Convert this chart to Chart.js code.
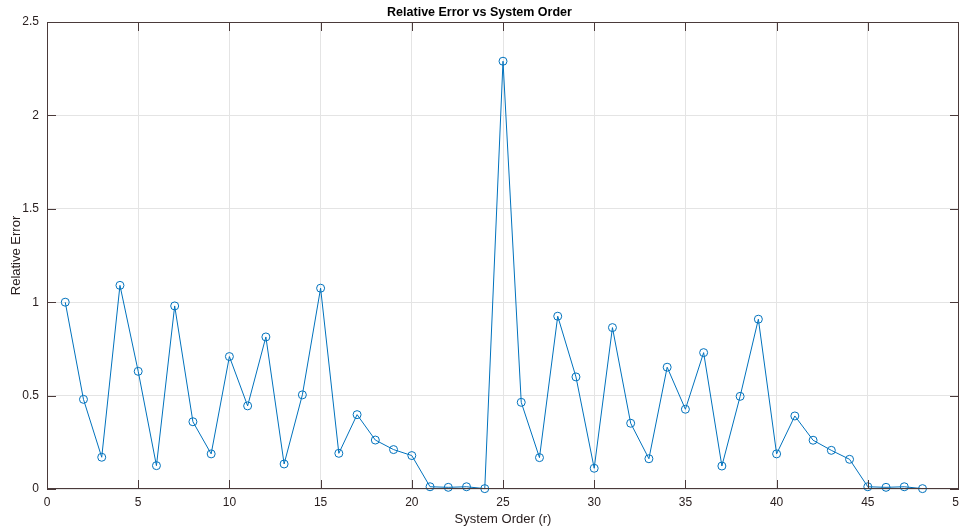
<!DOCTYPE html>
<html>
<head>
<meta charset="utf-8">
<script src="https://cdn.jsdelivr.net/npm/chart.js@4/dist/chart.umd.min.js"></script>
<style>
  html, body { margin: 0; padding: 0; background: #fff; }
  #wrap { width: 959px; height: 527px; }
</style>
</head>
<body>
<div id="wrap"><canvas id="err-chart"></canvas></div>
<script>
var orders = [1,2,3,4,5,6,7,8,9,10,11,12,13,14,15,16,17,18,19,20,21,22,23,24,
              25,26,27,28,29,30,31,32,33,34,35,36,37,38,39,40,41,42,43,44,45,46,47,48];
var relErr = [1.0,0.48,0.17,1.09,0.63,0.125,0.98,0.36,0.188,0.709,0.445,0.814,0.134,0.504,1.075,0.191,
              0.398,0.262,0.211,0.179,0.012,0.009,0.012,0.002,2.29,0.464,0.168,0.925,0.60,0.111,0.864,0.352,
              0.162,0.652,0.427,0.730,0.123,0.496,0.909,0.188,0.391,0.261,0.207,0.159,0.012,0.009,0.012,0.002];
var xTicks = [0,5,10,15,20,25,30,35,40,45,50];
var yTicks = [0,0.5,1,1.5,2,2.5];

var axisCol = '#4a3a3a';
var textCol = '#2a2020';

// MATLAB style box with inward ticks
var boxPlugin = {
  id: 'boxTicks',
  afterDraw: function(chart) {
    var c = chart.ctx, a = chart.chartArea;
    var xs = chart.scales.x, ys = chart.scales.y;
    c.save();
    c.strokeStyle = axisCol;
    c.lineWidth = 1;
    c.strokeRect(a.left + 0.5, a.top + 0.5, a.right - a.left - 1, a.bottom - a.top - 1);
    c.beginPath();
    xTicks.forEach(function(t) {
      var px = Math.round(xs.getPixelForValue(t)) + 0.5;
      c.moveTo(px, a.bottom); c.lineTo(px, a.bottom - 9);
      c.moveTo(px, a.top); c.lineTo(px, a.top + 9);
    });
    yTicks.forEach(function(t) {
      var py = Math.round(ys.getPixelForValue(t)) + 0.5;
      c.moveTo(a.left, py); c.lineTo(a.left + 9, py);
      c.moveTo(a.right, py); c.lineTo(a.right - 9, py);
    });
    c.stroke();
    c.restore();
  }
};

new Chart(document.getElementById('err-chart'), {
  type: 'line',
  data: {
    datasets: [{
      data: orders.map(function(o, i) { return { x: o, y: relErr[i] }; }),
      borderColor: '#0072BD',
      borderWidth: 1,
      pointStyle: 'circle',
      pointRadius: 4,
      pointBorderWidth: 1,
      pointBorderColor: '#0072BD',
      pointBackgroundColor: 'rgba(0,0,0,0)',
      fill: false,
      tension: 0,
      clip: 6
    }]
  },
  options: {
    responsive: true,
    maintainAspectRatio: false,
    animation: false,
    layout: { autoPadding: false, padding: { left: 0, right: 0, top: 0, bottom: 0 } },
    plugins: {
      legend: { display: false },
      tooltip: { enabled: false },
      title: {
        display: true,
        text: 'Relative Error vs System Order',
        color: '#000',
        font: { family: 'Liberation Sans, Arial', size: 12.5, weight: 'bold' },
        padding: { top: 5, bottom: 2 }
      }
    },
    scales: {
      x: {
        type: 'linear',
        min: 0, max: 50,
        afterBuildTicks: function(s) { s.ticks = xTicks.map(function(v) { return { value: v }; }); },
        afterFit: function(s) { s.height = 38; s.paddingRight = 0; s.paddingLeft = 0; },
        grid: { color: '#e4e4e4', drawTicks: false },
        border: { display: false },
        ticks: { color: textCol, padding: 6, maxRotation: 0,
                 font: { family: 'Liberation Sans, Arial', size: 12 } },
        title: { display: true, text: 'System Order (r)', color: textCol, padding: { top: 0, bottom: 0 },
                 font: { family: 'Liberation Sans, Arial', size: 13 } }
      },
      y: {
        min: 0, max: 2.5,
        afterBuildTicks: function(s) { s.ticks = yTicks.map(function(v) { return { value: v }; }); },
        afterFit: function(s) { s.width = 47; },
        grid: { color: '#e4e4e4', drawTicks: false },
        border: { display: false },
        ticks: { color: textCol, padding: 8,
                 callback: function(v) { return String(v); },
                 font: { family: 'Liberation Sans, Arial', size: 12 } },
        title: { display: true, text: 'Relative Error', color: textCol, padding: { top: 9, bottom: 4 },
                 font: { family: 'Liberation Sans, Arial', size: 13 } }
      }
    }
  },
  plugins: [boxPlugin]
});
</script>
</body>
</html>
